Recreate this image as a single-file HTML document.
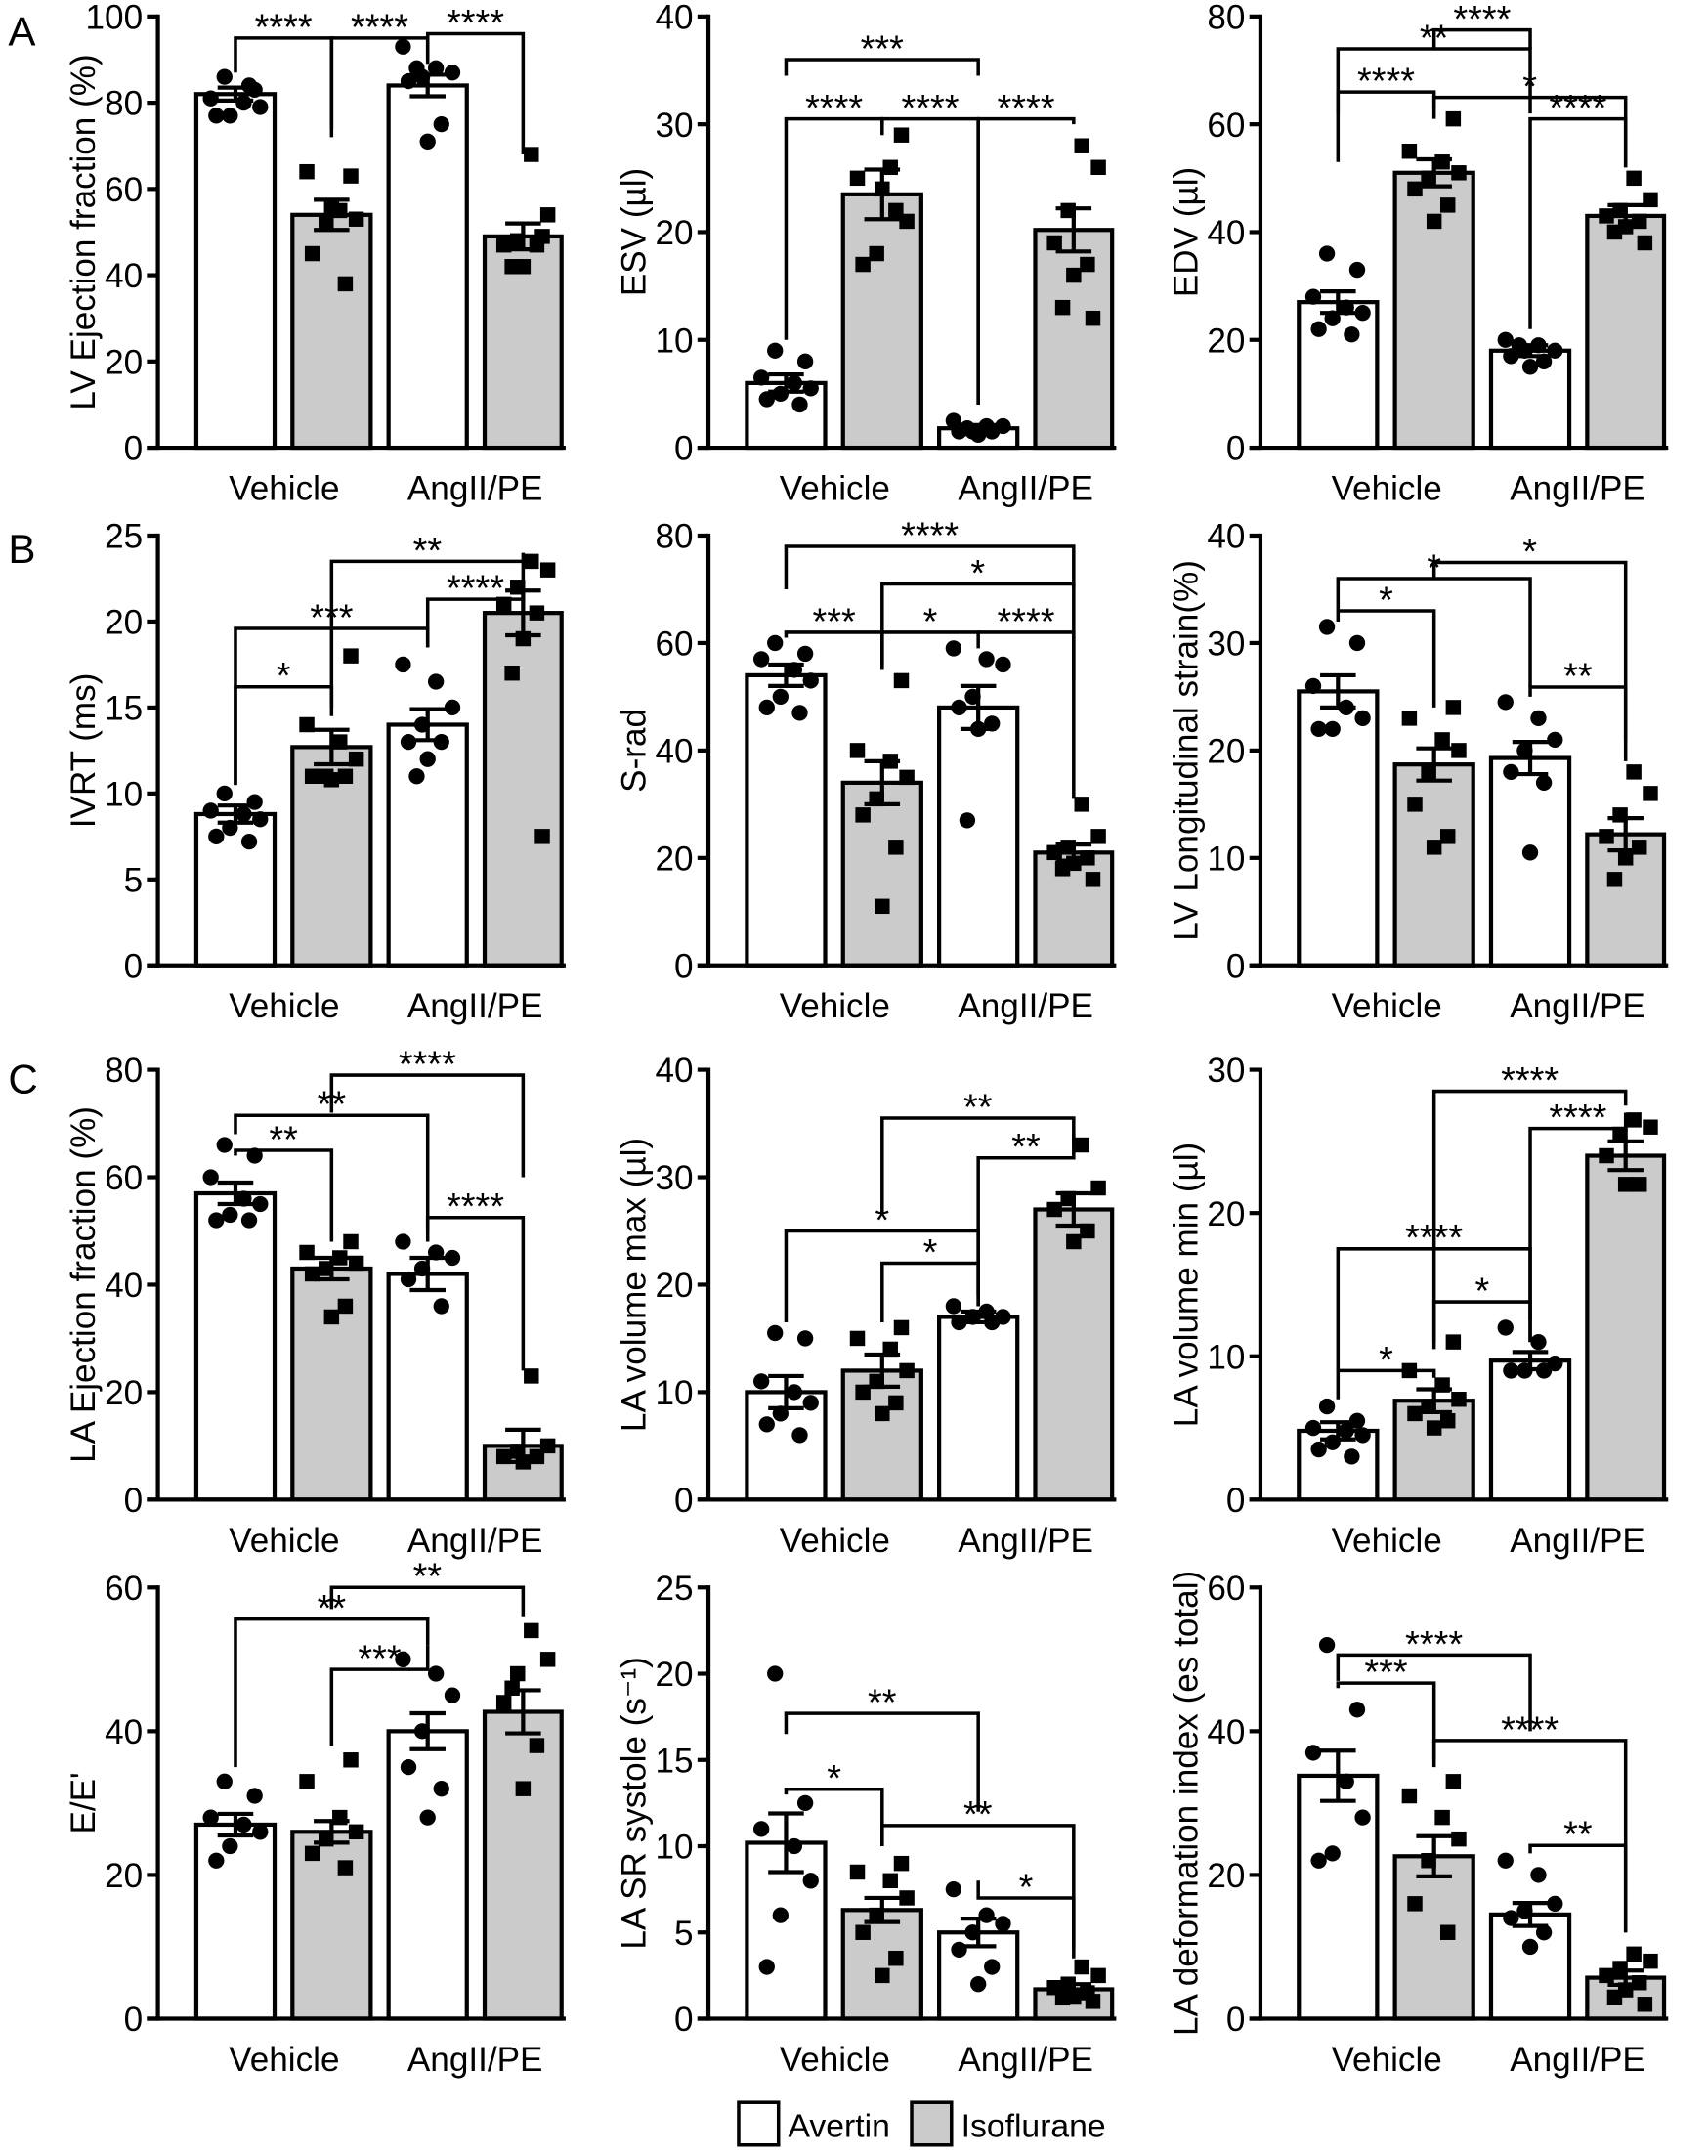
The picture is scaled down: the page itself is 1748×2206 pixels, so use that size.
<!DOCTYPE html>
<html><head><meta charset="utf-8"><style>body{margin:0;background:#fff}svg{display:block}text{font-family:"Liberation Sans",sans-serif;fill:#000}</style></head>
<body>
<svg id="s" width="1748" height="2206" viewBox="0 0 1244 1570" preserveAspectRatio="none" xmlns="http://www.w3.org/2000/svg"></svg>
<script>
const cols=[115,516,918], rows=[[326,12],[703,390],[1092,779],[1470,1156]];
const C=[
{c:0,r:0,max:100,st:20,lab:"LV Ejection fraction (%)",m:[82,54,84,49],e:[1.5,3.5,2.5,3],p:[[86,83,81,80,79,77,77,84],[63,64,55,53,52,45,38,56],[93,88,87,86,85,75,71,88],[68,54,48,47,47,42,42,49]],b:[[0,1,95,87,72,"****"],[1,2,95,74,89,"****"],[2,3,96,90,68,"****"]]},
{c:1,r:0,max:40,st:10,lab:"ESV (µl)",m:[6,23.5,1.8,20.2],e:[.8,2.3,.3,2],p:[[9,8,6.5,6,5.5,5,4.5,4],[29,25,26,21,18,17,22,24],[2.5,2,2,1.5,1.5,1.5,1.2,1.8],[28,26,22,19,17,16,13,12]],b:[[0,2,36,34.5,34.5,"***"],[0,1,30.5,10,30,"****"],[1,2,30.5,29,4,"****"],[2,3,30.5,4,30,"****"]]},
{c:2,r:0,max:80,st:20,lab:"EDV (µl)",m:[27,51,18,43],e:[2,2.5,1,2],p:[[36,33,28,26,25,24,22,21],[61,55,53,51,50,48,45,42],[20,19,18,18,17,16,15,19],[50,46,44,43,42,41,40,38]],b:[[0,2,74,62,62,"**"],[1,2,77.5,74,74,"****"],[0,1,66,53,61,"****"],[1,3,65,63,52,"*"],[2,3,61,22,52,"****"]]},
{c:0,r:1,max:25,st:5,lab:"IVRT (ms)",m:[8.8,12.7,14,20.5],e:[.5,1,.9,1.3],p:[[10,9.5,9,8.8,8.5,8,7.5,7.2],[18,14,13,12,11,11,11,10.8],[17.5,16.5,15,14,13,13,12,11],[23.5,23,22,21,20.5,19,17,7.5]],b:[[0,2,19.6,10.5,18.5,"***"],[0,1,16.2,10.5,14.5,"*"],[1,3,23.5,15,24,"**"],[2,3,21.3,18.5,23.5,"****"]]},
{c:1,r:1,max:80,st:20,lab:"S-rad",m:[54,34,48,21],e:[2,4,4,1.5],p:[[60,58,57,55,53,50,48,47],[53,40,38,35,31,28,22,11],[59,57,56,50,48,45,44,27],[30,24,22,21,20,19,18,16]],b:[[0,3,78,70,70,"****"],[1,3,71,56,53,"*"],[0,1,62,61,55,"***"],[1,2,62,55,59,"*"],[2,3,62,62,31,"****"]]},
{c:2,r:1,max:40,st:10,lab:"LV Longitudinal strain(%)",m:[25.5,18.7,19.3,12.2],e:[1.5,1.5,1.5,1.5],p:[[31.5,30,26,24,23,22,22],[24,23,21,20,18,15,12,11],[24.5,23,21,20,18,17,10.5],[18,16,14,12,11,10,8]],b:[[0,1,33,32,24,"*"],[0,2,36,33,26,"*"],[1,3,37.5,36,21,"*"],[2,3,25.9,25,19,"**"]]},
{c:0,r:2,max:80,st:20,lab:"LA Ejection fraction (%)",m:[57,43,42,10],e:[2,2,3,3],p:[[66,64,60,56,55,53,52,52],[48,46,45,44,43,42,36,34],[48,46,45,43,41,36],[23,10,9,8,8,7]],b:[[0,2,71.5,68,48,"**"],[0,1,65,64,48,"**"],[1,3,79,72,60,"****"],[2,3,52.5,50,24,"****"]]},
{c:1,r:2,max:40,st:10,lab:"LA volume max (µl)",m:[10,12,17,27],e:[1.5,1.5,.5,1.5],p:[[15.5,15,11,10,9,8,7,6],[16,15,14,12,11,10,9,8],[18,17.5,17,17,16.5,16.5],[33,29,28,27,25,24]],b:[[1,3,35.5,26.5,33,"**"],[0,2,25,16.5,18,"*"],[2,3,31.8,18,34,"**"],[1,2,22,16.5,19,"*"]]},
{c:2,r:2,max:30,st:10,lab:"LA volume min (µl)",m:[4.8,6.9,9.7,24],e:[.6,.8,.6,1],p:[[6.5,5.5,5,4.8,4.5,4,3.5,3],[11,9,8,7,6.5,6,5.5,5],[12,11,9.5,9,9,9],[26.5,26,25.5,24,22,22]],b:[[1,3,28.5,10.5,27.5,"****"],[0,2,17.5,9,11,"****"],[2,3,25.9,11,27,"****"],[1,2,13.8,11,12.5,"*"],[0,1,9,7,8.5,"*"]]},
{c:0,r:3,max:60,st:20,lab:"E/E'",m:[27,26,40,42.7],e:[1.5,1.5,2.5,3],p:[[33,31,28,27,26,24,22],[36,33,28,26,25,23,21],[50,48,45,40,35,32,28],[54,50,48,44,38,32,46]],b:[[0,2,55.6,35,52,"**"],[1,3,60,57,56,"**"],[1,2,48.6,38,52,"***"]]},
{c:1,r:3,max:25,st:5,lab:"LA SR systole (s⁻¹)",m:[10.2,6.3,5,1.7],e:[1.7,.7,.8,.3],p:[[20,12.5,11,10,8,6,3],[9,8.5,8,7,6,5,3.5,2.5],[7.5,6,5.5,5,4,3,2],[3,2.5,2,1.8,1.5,1.3,1.2,1]],b:[[0,2,17.7,16.5,12,"**"],[0,1,13.3,13,10,"*"],[1,3,11.2,10,4,"**"],[2,3,7,8,3.5,"*"]]},
{c:2,r:3,max:60,st:20,lab:"LA  deformation index (es total)",m:[33.8,22.6,14.5,5.7],e:[3.5,2.8,1.6,1],p:[[52,43,37,33,28,23,22],[33,31,28,25,22,16,12],[22,20,16,15,14,12,10],[9,8,7,6,5,4,3,2]],b:[[0,2,50.6,47,40,"****"],[0,1,46.7,46,36,"***"],[1,3,38.7,35,12,"****"],[2,3,24.1,23,12,"**"]]}
];
let o='';
const L=(x1,y1,x2,y2,w=3)=>`<line x1="${x1}" y1="${y1}" x2="${x2}" y2="${y2}" stroke="#000" stroke-width="${w}"/>`;
const T=(x,y,t,s=24,a="middle",ex="")=>`<text x="${x}" y="${y}" font-size="${s}" text-anchor="${a}" ${ex}>${t}</text>`;
const bo=[[28,85],[98,155],[168,225],[238,294]];
const jit=[-8,14,-18,6,18,-4,-14,10,0];
C.forEach(ch=>{
 const ax=cols[ch.c],[y0,yt]=rows[ch.r],k=(y0-yt)/ch.max,Y=v=>y0-v*k;
 const cx=i=>ax+(bo[i][0]+bo[i][1])/2;
 for(let i=0;i<4;i++){o+=`<rect x="${ax+bo[i][0]}" y="${Y(ch.m[i])}" width="${bo[i][1]-bo[i][0]}" height="${y0-Y(ch.m[i])}" fill="${i%2?'#cbcbcb':'#fff'}" stroke="#000" stroke-width="3"/>`;}
 for(let i=0;i<4;i++){const ps=ch.p[i];ps.forEach((v,j)=>{const x=cx(i)+jit[(j+i)%jit.length];const y=Y(v);
  o+=i%2?`<rect x="${x-5.5}" y="${y-5.5}" width="11" height="11" fill="#000"/>`:`<circle cx="${x}" cy="${y}" r="5.8" fill="#000"/>`;});}
 for(let i=0;i<4;i++){const x=cx(i),a=Y(ch.m[i]+ch.e[i]),b=Y(ch.m[i]-ch.e[i]);o+=L(x,a,x,b)+L(x-13,a,x+13,a)+L(x-13,b,x+13,b);}
 o+=L(ax,yt-1.5,ax,y0+1.5)+L(ax-8,y0,ax+297,y0);
 for(let v=0;v<=ch.max+1e-9;v+=ch.st){o+=L(ax-8,Y(v),ax,Y(v));o+=T(ax-11,Y(v)+9,v,25,"end");}
 o+=T(ax+92,y0+38,"Vehicle",25)+T(ax+231,y0+38,"AngII/PE",25);
 const lx=ax-46,ly=(y0+yt)/2;
 o+=T(lx,ly,ch.lab,25,"middle",`transform="rotate(-90 ${lx} ${ly})"`);
 ch.b.forEach(([i,j,v,d1,d2,t])=>{const x1=cx(i),x2=cx(j),y=Y(v);o+=`<polyline points="${x1},${Y(d1)} ${x1},${y} ${x2},${y} ${x2},${Y(d2)}" fill="none" stroke="#000" stroke-width="2.5"/>`;o+=T((x1+x2)/2,y+1,t,27);});
});
o+=T(6,33,"A",30,"start")+T(6,410,"B",30,"start")+T(6,796,"C",30,"start");
o+=`<rect x="538" y="1531" width="29" height="31" fill="#fff" stroke="#000" stroke-width="2.5"/>`+T(574,1556,"Avertin",24,"start");
o+=`<rect x="664" y="1531" width="29" height="31" fill="#cbcbcb" stroke="#000" stroke-width="2.5"/>`+T(700,1556,"Isoflurane",24,"start");
document.getElementById('s').innerHTML=o;
</script>
</body></html>
